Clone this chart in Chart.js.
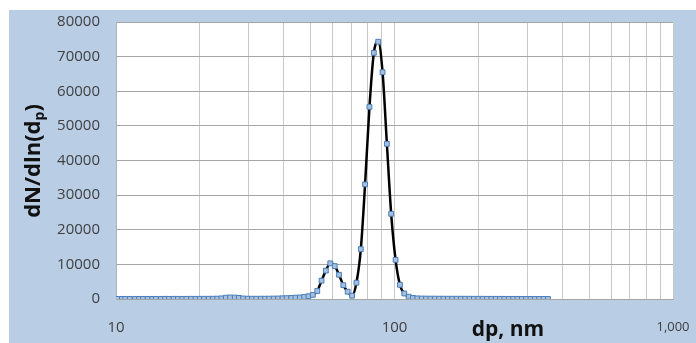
<!DOCTYPE html>
<html>
<head>
<meta charset="utf-8">
<script src="https://cdn.jsdelivr.net/npm/chart.js@4/dist/chart.umd.min.js"></script>
<style>
  html, body { margin: 0; padding: 0; background: #fff; }
  canvas { display: block; }
</style>
</head>
<body>
<canvas id="sizeChart" width="696" height="343"></canvas>
<script>
// particle diameter, nm
const diameters = [
  10.1, 10.5, 10.8, 11.2, 11.7, 12.1, 12.5, 13.0, 13.5, 13.9,
  14.5, 15.0, 15.5, 16.1, 16.7, 17.3, 17.9, 18.6, 19.3, 20.0,
  20.7, 21.5, 22.3, 23.1, 23.9, 24.8, 25.7, 26.7, 27.6, 28.6,
  29.7, 30.8, 31.9, 33.1, 34.3, 35.5, 36.8, 38.2, 39.6, 41.0,
  42.6, 44.1, 45.7, 47.4, 49.1, 50.9, 52.8, 54.7, 56.7, 58.8,
  61.0, 63.2, 65.5, 67.9, 70.4, 73.0, 75.7, 78.4, 81.3, 84.3,
  87.4, 90.6, 93.9, 97.3, 100.9, 104.6, 108.4, 112.4, 116.5, 120.8,
  125.2, 129.8, 134.6, 139.5, 144.6, 149.9, 155.4, 161.1, 167.0, 173.1,
  179.4, 186.0, 192.8, 199.9, 207.2, 214.8, 222.7, 230.8, 239.3, 248.0,
  257.1, 266.6, 276.3, 286.4, 296.9, 307.8, 319.1, 330.8, 342.9, 355.5
];

// dN/dln(dp)
const counts = [
  30, 30, 40, 30, 40, 30, 40, 40, 30, 40,
  40, 50, 40, 50, 50, 40, 50, 60, 50, 60,
  60, 70, 80, 100, 180, 380, 450, 420, 320, 160,
  90, 80, 80, 90, 90, 100, 120, 150, 200, 250,
  300, 380, 450, 600, 800, 1200, 2300, 5300, 8200, 10300,
  9500, 7000, 4000, 2100, 950, 4700, 14400, 33100, 55500, 71100,
  74300, 65500, 44800, 24600, 11300, 4100, 1600, 670, 300, 180,
  130, 110, 100, 100, 90, 90, 80, 80, 80, 70,
  70, 70, 60, 60, 60, 50, 50, 50, 50, 40,
  40, 40, 40, 30, 30, 30, 30, 30, 20, 20
];

// vertical grid lines of the log axis
const xGridValues = [10, 20, 30, 40, 50, 60, 70, 80, 90,
  100, 200, 300, 400, 500, 600, 700, 800, 900, 1000];
const xLabels = { 10: '10', 100: '100', 1000: '1,000' };

const FONT = "'Open Sans', 'Liberation Sans', sans-serif";

const frame = {
  id: 'frame',
  beforeDraw(chart) {
    const ctx = chart.ctx;
    const a = chart.chartArea;
    ctx.save();
    ctx.fillStyle = '#ffffff';
    ctx.fillRect(0, 0, chart.width, chart.height);
    ctx.fillStyle = '#b9cde5';
    ctx.fillRect(9, 10, chart.width - 9, chart.height - 10);
    ctx.fillStyle = '#ffffff';
    ctx.fillRect(a.left, a.top, a.right - a.left, a.bottom - a.top);
    ctx.restore();
  },
  afterDraw(chart) {
    const ctx = chart.ctx;
    ctx.save();
    ctx.fillStyle = '#111111';
    // x title
    ctx.font = 'bold 21px ' + FONT;
    ctx.textAlign = 'center';
    ctx.textBaseline = 'alphabetic';
    ctx.fillText('dp, nm', 508, 336);
    // y title with subscript
    const big = 'bold 22px ' + FONT;
    const small = 'bold 14px ' + FONT;
    ctx.font = big;
    const w1 = ctx.measureText('dN/dln(d').width;
    const w3 = ctx.measureText(')').width;
    ctx.font = small;
    const w2 = ctx.measureText('p').width;
    const total = w1 + w2 + w3;
    ctx.translate(40, 161);
    ctx.rotate(-Math.PI / 2);
    ctx.textAlign = 'left';
    let x = -total / 2;
    ctx.font = big;
    ctx.fillText('dN/dln(d', x, 0);
    x += w1;
    ctx.font = small;
    ctx.fillText('p', x, 4);
    x += w2;
    ctx.font = big;
    ctx.fillText(')', x, 0);
    ctx.restore();
  }
};

new Chart(document.getElementById('sizeChart'), {
  type: 'scatter',
  data: {
    datasets: [{
      label: 'dN/dln(dp)',
      data: diameters.map((d, i) => ({ x: d, y: counts[i] })),
      showLine: true,
      borderColor: '#000000',
      borderWidth: 2.5,
      cubicInterpolationMode: 'monotone',
      pointStyle: 'rect',
      pointRadius: 3.4,
      pointBorderWidth: 1,
      pointBorderColor: '#4a7ebb',
      pointBackgroundColor: '#a7c0de'
    }]
  },
  options: {
    responsive: false,
    devicePixelRatio: 1,
    animation: false,
    layout: { padding: { top: 22, right: 23, left: 0, bottom: 0 } },
    plugins: {
      legend: { display: false },
      tooltip: { enabled: false }
    },
    scales: {
      x: {
        type: 'logarithmic',
        min: 10,
        max: 1000,
        afterFit(scale) {
          scale.height = 44;
          scale.paddingLeft = 0;
          scale.paddingRight = 0;
        },
        afterBuildTicks(scale) {
          scale.ticks = xGridValues.map(v => ({ value: v }));
        },
        grid: { color: '#c9c9c9', drawTicks: false },
        border: { color: '#a6a6a6' },
        ticks: {
          autoSkip: false,
          maxRotation: 0,
          padding: 20,
          color: '#404040',
          font: ctx => ({
            family: FONT,
            size: ctx.tick && ctx.tick.value === 1000 ? 13 : 15
          }),
          callback: v => xLabels[v] || ''
        }
      },
      y: {
        min: 0,
        max: 80000,
        afterFit(scale) {
          scale.width = 116;
          scale.paddingTop = 0;
          scale.paddingBottom = 0;
        },
        grid: { color: '#a6a6a6', drawTicks: false },
        border: { color: '#b0b0b0' },
        ticks: {
          stepSize: 10000,
          padding: 16,
          color: '#404040',
          font: { family: FONT, size: 15 },
          callback: v => String(v)
        }
      }
    }
  },
  plugins: [frame]
});
</script>
</body>
</html>
